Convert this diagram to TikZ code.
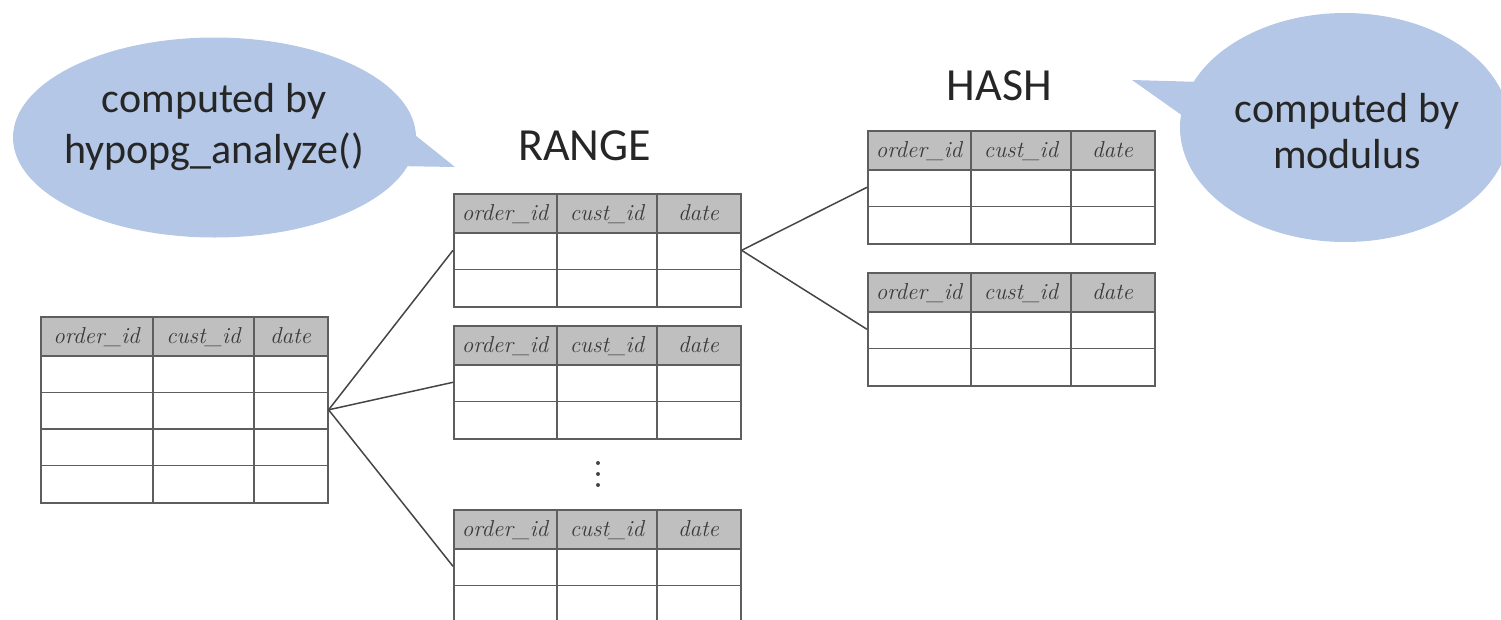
\documentclass[tikz,border=0pt]{standalone}
\usepackage{fontspec}
\newfontfamily\calibri{Carlito}
\usetikzlibrary{shapes.geometric}

\definecolor{bubblefill}{HTML}{B4C7E7}
\definecolor{hdrgray}{HTML}{BFBFBF}
\definecolor{gridgray}{HTML}{5E5E5E}
\definecolor{conngray}{HTML}{454545}
\definecolor{inkdark}{HTML}{262626}
\definecolor{hdrink}{HTML}{3A3A3A}

\tikzset{
  gridline/.style={draw=gridgray, line width=1.6pt},
  tablebox/.style={draw=gridgray, line width=1.6pt, inner sep=0pt,
    minimum width=287pt, anchor=north west},
  hdrtext/.style={font=\rmfamily\itshape\fontsize{23}{25}\selectfont,
    text=hdrink, anchor=base, inner sep=0pt},
  conn/.style={draw=conngray, line width=1.5pt},
  titletext/.style={font=\calibri\fontsize{46}{50}\selectfont,
    text=inkdark, anchor=base, inner sep=0pt},
  bubble/.style={ellipse, fill=bubblefill, inner sep=0pt},
  bubtext/.style={text=inkdark, align=center, anchor=base, inner sep=0pt},
  % a partition table: #1 data rows, #2 and #3 the inner column rules
  pics/parttable/.style n args={3}{code={
    \fill[hdrgray] (0,0) rectangle (287,40);
    \foreach \k in {1,...,#1}
      \draw[gridline] (0,{40+36.5*(\k-1)}) -- (287,{40+36.5*(\k-1)});
    \draw[gridline] (#2,0) -- (#2,{40+36.5*#1});
    \draw[gridline] (#3,0) -- (#3,{40+36.5*#1});
    \node[tablebox, minimum height={40+36.5*#1}] (-box) at (0,0) {};
    \node[hdrtext] (-c1) at ({#2/2},27) {order\_id};
    \node[hdrtext] (-c2) at ({(#2+#3)/2},27) {cust\_id};
    \node[hdrtext] (-c3) at ({(#3+287)/2},27) {date};
  }}
}

\begin{document}
\begin{tikzpicture}[x=1pt, y=-1pt]
\useasboundingbox (0,0) rectangle (1501,619);
\clip (0,0) rectangle (1501,619);

% speech bubbles (the base anchor sits on the last line)
\node[bubble, minimum width=403pt, minimum height=200pt] (noteL) at (214.5,137.5) {};
\fill[bubblefill] (405,127) -- (455,167) -- (395,166) -- cycle;
\node[bubtext, font=\calibri\fontsize{42}{51}\selectfont] (noteLtxt) at (214,163)
  {computed by\\hypopg\_analyze()};

\node[bubble, minimum width=330pt, minimum height=229pt] (noteR) at (1345,127.5) {};
\fill[bubblefill] (1202,82) -- (1132,80) -- (1190,121) -- cycle;
\node[bubtext, font=\calibri\fontsize{42}{46}\selectfont] (noteRtxt) at (1347,168)
  {computed by\\modulus};

% titles
\node[titletext] (rangelbl) at (584.5,160) {RANGE};
\node[titletext] (hashlbl) at (999.5,100) {HASH};

% parent table
\pic (P) at (40,316) {parttable={4}{113}{214}};

% range partitions
\pic (R1) at (453,193) {parttable={2}{104}{204}};
\pic (R2) at (453,325) {parttable={2}{104}{204}};
\pic (R3) at (453,509) {parttable={2}{104}{204}};

% hash sub-partitions
\pic (H1) at (867,130) {parttable={2}{104}{204}};
\pic (H2) at (867,272) {parttable={2}{104}{204}};

% ellipsis between range partitions
\fill[conngray] (598,463) circle (2) (598,474) circle (2) (598,485) circle (2);

% connectors
\draw[conn] (P-box.east) -- (R1-box.west);
\draw[conn] (P-box.east) -- (R2-box.west);
\draw[conn] (P-box.east) -- (R3-box.west);
\draw[conn] (R1-box.east) -- (H1-box.west);
\draw[conn] (R1-box.east) -- (H2-box.west);
\end{tikzpicture}
\end{document}
